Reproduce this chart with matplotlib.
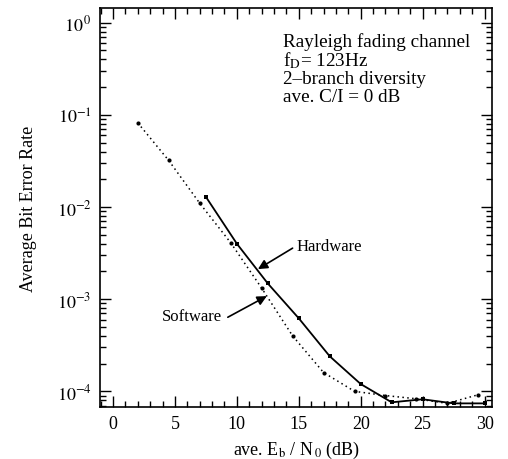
import matplotlib
matplotlib.use("Agg")
import matplotlib.pyplot as plt
from matplotlib.ticker import LogLocator, MultipleLocator, FixedLocator, NullFormatter

plt.rcParams['font.family'] = ['Liberation Serif', 'DejaVu Serif']
plt.rcParams['mathtext.fontset'] = 'stix'

# Data
sw_snr = [2, 4.5, 7, 9.5, 12, 14.5, 17, 19.5, 22, 24.5, 27, 29.5]
sw_ber = [0.082, 0.032, 0.011, 0.0041, 0.00132, 0.0004, 1.6e-4, 1.0e-4, 9.0e-5, 8.3e-5, 7.4e-5, 9.2e-5]
hw_snr = [7.5, 10, 12.5, 15, 17.5, 20, 22.5, 25, 27.5, 30]
hw_ber = [0.0129, 0.0040, 0.00148, 0.00062, 2.4e-4, 1.2e-4, 7.6e-5, 8.2e-5, 7.4e-5, 7.4e-5]
x_ticks = [0, 5, 10, 15, 20, 25, 30]
y_ticks = [1e0, 1e-1, 1e-2, 1e-3, 1e-4]
y_ticklabels = [r"$10^{\,0}$", r"$10^{-1}$", r"$10^{-2}$", r"$10^{-3}$", r"$10^{-4}$"]
info_lines = ["Rayleigh fading channel", r"f$_{\rm D}$= 123Hz", "2\u2013branch diversity", "ave. C/I = 0 dB"]

W, H = 508, 460
L, R, T, B = 100, 492, 9, 408

fig = plt.figure(figsize=(W/100, H/100), dpi=100)
ax = fig.add_axes([L/W, 1-B/H, (R-L)/W, (B-T)/H])

ax.plot(sw_snr, sw_ber, linestyle=(0, (1, 2.2)), color='black', linewidth=1.1,
        marker='o', markersize=3, markerfacecolor='black', markeredgewidth=0)
ax.plot(hw_snr, hw_ber, linestyle='-', color='black', linewidth=1.3,
        marker='s', markersize=3.5, markerfacecolor='black', markeredgewidth=0)

ax.set_yscale('log')
ax.set_xlim(-1.05, 30.6)
ax.set_ylim(10**-4.17, 10**0.16)

ax.xaxis.set_major_locator(FixedLocator(x_ticks))
ax.xaxis.set_minor_locator(MultipleLocator(1))
ax.set_xticklabels([str(t) for t in x_ticks])
ax.yaxis.set_major_locator(FixedLocator(y_ticks))
ax.set_yticklabels(y_ticklabels)
ax.yaxis.set_minor_locator(LogLocator(base=10, subs=range(2, 10)))
ax.yaxis.set_minor_formatter(NullFormatter())

ax.tick_params(which='both', direction='in', top=True, right=True, width=1.0, labelsize=13)
ax.tick_params(which='major', length=8)
ax.tick_params(which='minor', length=4)
ax.tick_params(axis='x', pad=6)
ax.tick_params(axis='y', pad=6)
for s in ax.spines.values():
    s.set_linewidth(1.2)

ax.set_xlabel(r"ave. E$_{\rm b}$ / N$_{\,0}$ (dB)", fontsize=13, labelpad=5)
ax.set_ylabel("Average Bit Error Rate", fontsize=13, labelpad=14)

for i, line in enumerate(info_lines):
    ax.text((283 - L)/(R - L), 1 - (42 - T + i*18.5)/(B - T), line, transform=ax.transAxes,
            fontsize=13.8, va='center', ha='left')

ax.text(14.84, 3.77e-3, "Hardware", fontsize=12, va='center', ha='left')
ax.annotate("", xy=(11.7, 2.12e-3), xytext=(14.5, 3.58e-3),
            arrowprops=dict(arrowstyle='-|>', color='black', lw=1.2,
                            mutation_scale=14, shrinkA=0, shrinkB=0))
ax.text(8.8, 6.5e-4, "Software", fontsize=12, va='center', ha='right')
ax.annotate("", xy=(12.42, 1.08e-3), xytext=(9.27, 6.37e-4),
            arrowprops=dict(arrowstyle='-|>', color='black', lw=1.2,
                            mutation_scale=14, shrinkA=0, shrinkB=0))

fig.savefig("out.png", dpi=100)
